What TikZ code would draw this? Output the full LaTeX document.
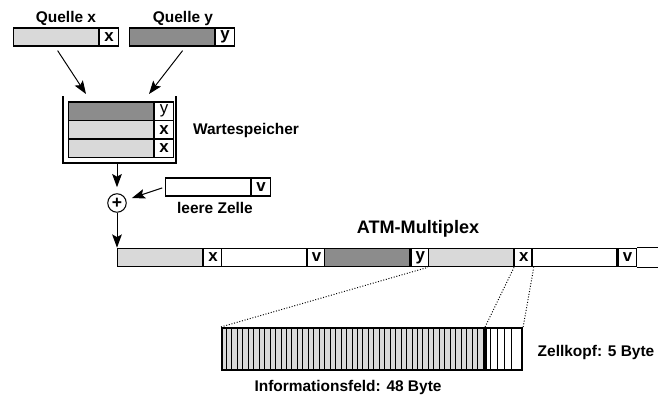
\documentclass[tikz,border=0pt]{standalone}
\usepackage{fontspec}
\setmainfont{Liberation Sans}
\usetikzlibrary{arrows.meta}
\definecolor{zelleHell}{RGB}{217,217,217}
\definecolor{zelleDunkel}{RGB}{140,140,140}

\begin{document}
\begin{tikzpicture}[
  x=0.02cm,
  y=-0.02cm,
  font=\fontsize{8.8}{10}\selectfont\bfseries,
  >=Stealth,
  nutz/.style={
    draw,
    anchor=west,
    inner sep=0pt,
    minimum width=1.7cm,
    minimum height=0.37cm,
    line width=0.7pt,
  },
  kopf/.style={
    nutz,
    fill=white,
    minimum width=0.37cm,
    font=\fontsize{9.6}{10}\selectfont\bfseries,
  },
  pfeil/.style={
    -{Stealth[length=7.5pt,width=5.5pt,inset=1.5pt]},
    line width=0.55pt,
  },
  punkt/.style={
    densely dotted,
    line width=0.55pt,
  },
]

  \useasboundingbox (0,0) rectangle (658,396);

  % Quellen
  \node[nutz, fill=zelleHell, minimum height=0.36cm] (qxn) at (13,37) {};
  \node[kopf, minimum height=0.36cm] (qxk) at (qxn.east) {x};
  \node (qxl) at (66,18) {Quelle x};

  \node[nutz, fill=zelleDunkel, minimum height=0.36cm] (qyn) at (129,37) {};
  \node[kopf, minimum height=0.36cm] (qyk) at (qyn.east) {y};
  \node (qyl) at (183,18) {Quelle y};

  % Wartespeicher
  \node[nutz, fill=zelleDunkel] (s1n) at (68,111.25) {};
  \node[kopf, font=\fontsize{9.6}{10}\selectfont] (s1k) at (s1n.east) {y};
  \node[nutz, fill=zelleHell] (s2n) at (68,129.75) {};
  \node[kopf] (s2k) at (s2n.east) {x};
  \node[nutz, fill=zelleHell] (s3n) at (68,148.25) {};
  \node[kopf] (s3k) at (s3n.east) {x};
  \coordinate (spNW) at (63,96);
  \coordinate (spSE) at (176,163);
  \draw[line width=0.7pt] (spNW) -- (spNW |- spSE) -- (spSE) -- (spSE |- spNW);
  \node (spl) at (246,130) {Wartespeicher};

  \coordinate (ein1) at (86,94);
  \coordinate (ein2) at (149,94);
  \draw[pfeil] ([xshift=0.03cm, yshift=-0.08cm]qxn.south) -- (ein1);
  \draw[pfeil] ([xshift=0.21cm, yshift=-0.08cm]qyn.south) -- (ein2);

  % Einfuegen leerer Zellen
  \node[draw, circle, minimum size=0.37cm, inner sep=0pt, line width=0.6pt,
        font=\fontsize{10}{10}\selectfont\bfseries] (sum) at (117,203) {+};
  \node[nutz, fill=white, minimum height=0.36cm] (lzn) at (165,187) {};
  \node[kopf, minimum height=0.36cm] (lzk) at (lzn.east) {v};
  \node (lzl) at (215,208) {leere Zelle};

  \draw[pfeil, shorten >=0.12cm] (spSE -| sum) -- (sum);
  \draw[pfeil, shorten <=0.06cm, shorten >=0.12cm] (lzn.west) -- (sum);

  % ATM-Multiplex
  \foreach \farbe/\kb [count=\i] in {zelleHell/x, white/v, zelleDunkel/y, zelleHell/x, white/v} {
    \pgfmathsetmacro{\mx}{117+(\i-1)*103.6}
    \node[nutz, fill=\farbe] (m\i) at (\mx,257.5) {};
    \node[kopf] (k\i) at (m\i.east) {\kb};
  }
  \coordinate (mEnde) at (658,257.5);
  \draw[line width=0.7pt] (k5.north east) -- (k5.north east -| mEnde);
  \draw[line width=0.7pt] (k5.south east) -- (k5.south east -| mEnde);
  \node[font=\fontsize{10.3}{12}\selectfont\bfseries] (atm) at (418,229) {ATM-Multiplex};

  \draw[pfeil] (sum) -- (sum |- m1.north);

  % Zelle im Detail
  \node[draw, fill=zelleHell, anchor=west, inner sep=0pt, line width=1.2pt,
        minimum width=5.24cm, minimum height=0.84cm] (info) at (221,349) {};
  \node[draw, fill=white, anchor=west, inner sep=0pt, line width=1.2pt,
        minimum width=0.72cm, minimum height=0.84cm] (zk) at (info.east) {};
  \foreach \j in {1,...,47}
    \draw[line width=0.55pt] ({221+\j*5.4583},328) -- ++(0,42);
  \foreach \j in {1,...,4}
    \draw[line width=0.55pt] ({483+\j*7.2},328) -- ++(0,42);
  \draw[line width=1pt] ({221+25*5.4583},328) -- ++(0,42);
  \draw[line width=2pt] (info.north east) -- (info.south east);

  \draw[punkt] (info.north west) -- (m4.south west);
  \draw[punkt] (info.north east) -- (k4.south west);
  \draw[punkt] (zk.north east) -- (k4.south east);

  \node (infol) at (348,387) {Informationsfeld: 48 Byte};
  \node (zkl) at (596,352) {Zellkopf: 5 Byte};

\end{tikzpicture}
\end{document}
